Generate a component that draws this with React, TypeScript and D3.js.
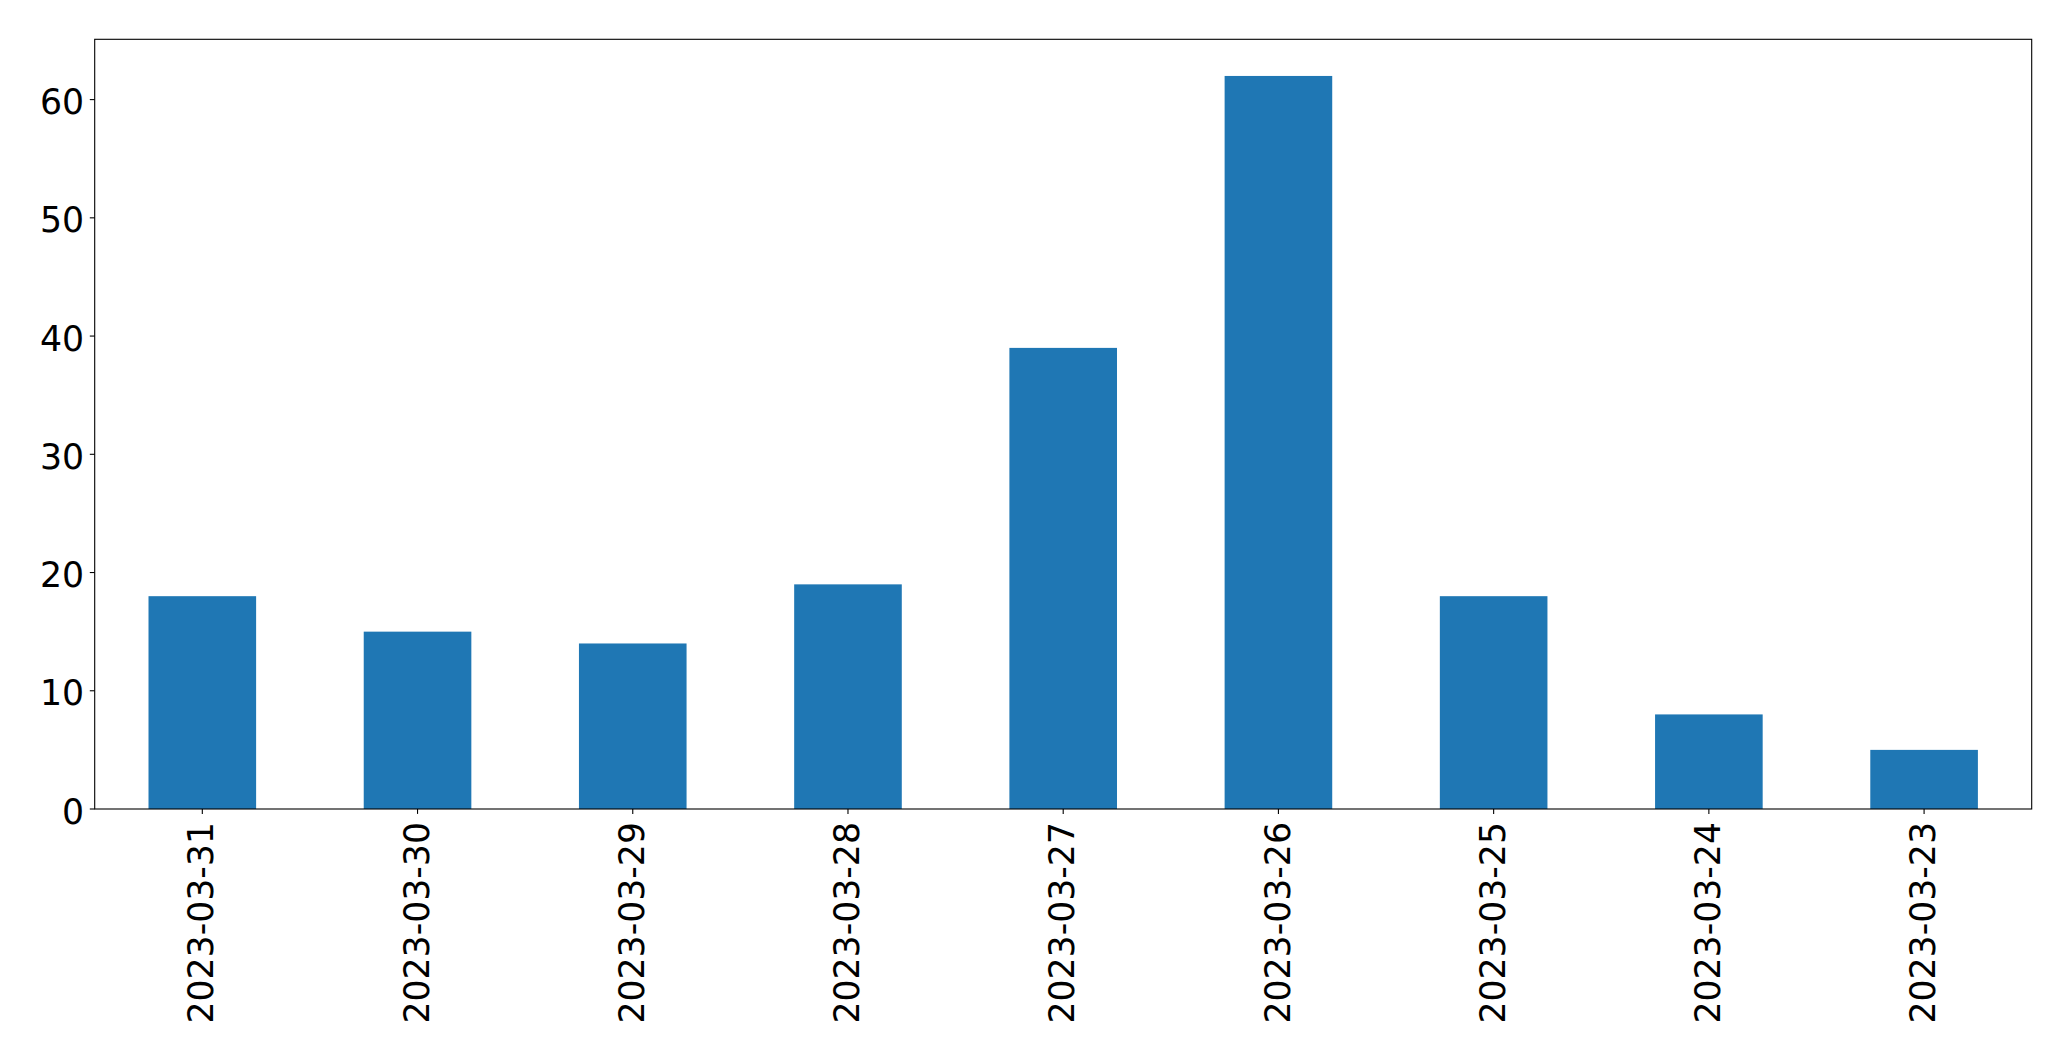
import React from "react";
import * as d3 from "d3";

const categories = ["2023-03-31", "2023-03-30", "2023-03-29", "2023-03-28", "2023-03-27", "2023-03-26", "2023-03-25", "2023-03-24", "2023-03-23"];
const values = [18, 15, 14, 19, 39, 62, 18, 8, 5];
const yTicks = [0, 10, 20, 30, 40, 50, 60];

const W = 2071;
const H = 1061;
const left = 94.7;
const right = 2031.7;
const top = 39.3;
const bottom = 809;
const FONT = "DejaVu Sans, sans-serif";
const FS = 34.7;

export default function App() {
  const x = d3.scaleBand<string>().domain(categories).range([left, right]).paddingInner(0.5).paddingOuter(0.25);
  const yMax = d3.max(values)! * 1.05;
  const y = d3.scaleLinear().domain([0, yMax]).range([bottom, top]);
  const bw = x.bandwidth();

  return (
    <svg width={W} height={H} style={{ position: "absolute", left: 0, top: 0, background: "#fff" }}>
      <rect x={0} y={0} width={W} height={H} fill="#fff" />
      {categories.map((c, i) => (
        <rect key={c} x={x(c)!} y={y(values[i])} width={bw} height={bottom - y(values[i])} fill="#1f77b4" />
      ))}
      <rect x={left} y={top} width={right - left} height={bottom - top} fill="none" stroke="#000" strokeWidth={1.1} />
      {yTicks.map((t) => (
        <g key={t}>
          <line x1={left - 4.9} x2={left} y1={y(t)} y2={y(t)} stroke="#000" strokeWidth={1.1} />
          <text x={left - 10.5} y={y(t)} dy="0.42em" textAnchor="end" fontFamily={FONT} fontSize={FS} fill="#000">
            {t}
          </text>
        </g>
      ))}
      {categories.map((c) => {
        const cx = x(c)! + bw / 2;
        const ty = bottom + 13;
        return (
          <g key={c}>
            <line x1={cx} x2={cx} y1={bottom} y2={bottom + 4.9} stroke="#000" strokeWidth={1.1} />
            <text
              transform={`translate(${cx},${ty}) rotate(-90)`}
              dy="0.32em"
              textAnchor="end"
              fontFamily={FONT}
              fontSize={FS}
              fill="#000"
            >
              {c}
            </text>
          </g>
        );
      })}
    </svg>
  );
}
